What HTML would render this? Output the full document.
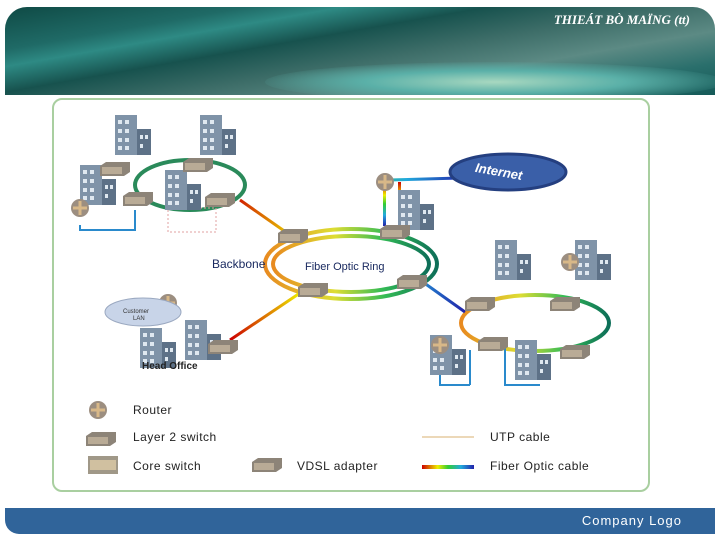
<!DOCTYPE html>
<html><head><meta charset="utf-8"><style>
body{margin:0;width:720px;height:540px;background:#fff;position:relative;overflow:hidden;font-family:"Liberation Sans",sans-serif}
.hdr{position:absolute;left:5px;top:7px;width:710px;height:88px;border-radius:22px 22px 0 0;
background:linear-gradient(170deg,#0f4a45 0%,#1f6a66 20%,#2e8a84 28%,#17524e 40%,#3d6d68 55%,#5c8a84 70%,#2a6f6c 85%,#155a58 100%);overflow:hidden}
.hdr:after{content:"";position:absolute;left:260px;top:55px;width:460px;height:40px;border-radius:50%;background:radial-gradient(ellipse,#a8d8c0 0%,#5ab0a8 40%,rgba(40,120,120,0) 75%)}
.title{position:absolute;right:30px;top:12px;color:#fff;font-family:"Liberation Serif",serif;font-style:italic;font-weight:bold;font-size:13px;z-index:2}
.frame{position:absolute;left:52px;top:98px;width:594px;height:390px;border:2px solid #a9cfa0;border-radius:10px}
.ftr{position:absolute;left:5px;top:508px;width:710px;height:26px;background:#30649a;border-radius:0 0 0 14px}
.ftr span{position:absolute;right:33px;top:5px;color:#fff;font-size:13px;letter-spacing:1px}
.lg{position:absolute;font-size:12px;color:#222;letter-spacing:.5px}
</style></head><body>
<div class="hdr"></div><div class="title">THIEÁT BÒ MAÏNG (tt)</div>
<div class="frame"></div>
<svg width="720" height="540" style="position:absolute;left:0;top:0">
<defs>
<linearGradient id="rb" x1="0" x2="1"><stop offset="0" stop-color="#c00"/><stop offset=".3" stop-color="#ee0"/><stop offset=".5" stop-color="#3c3"/><stop offset=".75" stop-color="#2ad"/><stop offset="1" stop-color="#22a"/></linearGradient>
<linearGradient id="rbv" x1="0" y1="0" x2="0" y2="1"><stop offset="0" stop-color="#c00"/><stop offset=".3" stop-color="#ee0"/><stop offset=".5" stop-color="#3c3"/><stop offset=".75" stop-color="#2ad"/><stop offset="1" stop-color="#22a"/></linearGradient>
<linearGradient id="ring" x1="0" x2="1"><stop offset="0" stop-color="#e88a20"/><stop offset=".4" stop-color="#dd3"/><stop offset=".7" stop-color="#3b5"/><stop offset="1" stop-color="#0d6e58"/></linearGradient>
<g id="bld"><rect x="0" y="0" width="22" height="40" fill="#7f93a8"/><rect x="22" y="14" width="14" height="26" fill="#5d7187"/><g fill="#dfe8f0"><rect x="3" y="5" width="4" height="4"/><rect x="10" y="5" width="4" height="4"/><rect x="3" y="14" width="4" height="4"/><rect x="10" y="14" width="4" height="4"/><rect x="3" y="23" width="4" height="4"/><rect x="10" y="23" width="4" height="4"/><rect x="3" y="31" width="4" height="4"/><rect x="10" y="31" width="4" height="4"/><rect x="25" y="20" width="3" height="4"/><rect x="30" y="20" width="3" height="4"/><rect x="25" y="29" width="3" height="4"/></g></g>
<g id="sw"><path d="M0 4 L6 0 L30 0 L30 10 L24 14 L0 14Z" fill="#8d8478"/><rect x="2" y="5" width="20" height="7" fill="#b9ab96"/></g>
<g id="rt"><circle r="9" fill="#9c8e80"/><path d="M-7 0H7M0 -7V7" stroke="#d8b888" stroke-width="3"/></g>
</defs>
<ellipse cx="351" cy="264" rx="86" ry="35" fill="none" stroke="url(#ring)" stroke-width="4"/>
<ellipse cx="351" cy="264" rx="78" ry="28" fill="none" stroke="url(#ring)" stroke-width="4"/>
<ellipse cx="190" cy="185" rx="55" ry="25" fill="none" stroke="#2a8a5a" stroke-width="4"/>
<ellipse cx="535" cy="323" rx="74" ry="28" fill="none" stroke="url(#ring)" stroke-width="4"/>
<path d="M240 200 L290 235 M300 293 L230 340 M420 280 L465 312 M390 180 L460 178" stroke="url(#rb)" stroke-width="3" fill="none"/>
<rect x="383" y="182" width="3" height="44" fill="url(#rbv)"/><rect x="398" y="182" width="3" height="44" fill="url(#rbv)"/>
<path d="M80 225 V230 H135 V210 M440 350 V385 H470 M470 350 V385 M505 345 V385 H540" stroke="#2a8acc" stroke-width="2" fill="none"/>
<rect x="168" y="208" width="48" height="24" fill="none" stroke="#e0a0a0" stroke-dasharray="2 2"/>
<use href="#bld" x="115" y="115"/><use href="#bld" x="200" y="115"/><use href="#bld" x="80" y="165"/><use href="#bld" x="165" y="170"/>
<use href="#bld" x="398" y="190"/><use href="#bld" x="495" y="240"/><use href="#bld" x="575" y="240"/>
<use href="#bld" x="430" y="335"/><use href="#bld" x="515" y="340"/><use href="#bld" x="185" y="320"/><use href="#bld" x="140" y="328"/>
<use href="#sw" x="100" y="162"/><use href="#sw" x="183" y="158"/><use href="#sw" x="123" y="192"/><use href="#sw" x="205" y="193"/>
<use href="#sw" x="278" y="229"/><use href="#sw" x="380" y="225"/><use href="#sw" x="298" y="283"/><use href="#sw" x="397" y="275"/>
<use href="#sw" x="465" y="297"/><use href="#sw" x="550" y="297"/><use href="#sw" x="478" y="337"/><use href="#sw" x="560" y="345"/><use href="#sw" x="208" y="340"/>
<use href="#rt" x="80" y="208"/><use href="#rt" x="385" y="182"/><use href="#rt" x="168" y="303"/><use href="#rt" x="570" y="262"/><use href="#rt" x="440" y="345"/>
<ellipse cx="508" cy="172" rx="58" ry="18" fill="#3a5fa8" stroke="#243f80" stroke-width="3"/>
<text x="475" y="177" fill="#fff" font-size="13" font-weight="bold" font-style="italic" transform="rotate(10 505 172)">Internet</text>
<ellipse cx="143" cy="312" rx="38" ry="14" fill="#c8d4e8" stroke="#9aa8c0"/>
<text x="123" y="313" font-size="6" fill="#333">Customer</text><text x="133" y="320" font-size="6" fill="#333">LAN</text>
<text x="142" y="369" font-size="10" font-weight="bold" fill="#222">Head Office</text>
<text x="212" y="268" font-size="12" fill="#1a2a60">Backbone</text>
<text x="305" y="270" font-size="11" fill="#1a2a60">Fiber Optic Ring</text>
<use href="#rt" x="98" y="410"/><use href="#sw" x="86" y="432"/><g transform="translate(88,456)"><rect width="30" height="18" fill="#a09888"/><rect x="2" y="4" width="26" height="10" fill="#d0c0a0"/></g>
<use href="#sw" x="252" y="458"/>
<rect x="422" y="436" width="52" height="2" fill="#ecd8b8"/>
<rect x="422" y="465" width="52" height="4" fill="url(#rb)"/>
</svg>
<div class="lg" style="left:133px;top:403px">Router</div>
<div class="lg" style="left:133px;top:430px">Layer 2 switch</div>
<div class="lg" style="left:133px;top:459px">Core switch</div>
<div class="lg" style="left:297px;top:459px">VDSL adapter</div>
<div class="lg" style="left:490px;top:430px">UTP cable</div>
<div class="lg" style="left:490px;top:459px">Fiber Optic cable</div>
<div class="ftr"><span>Company Logo</span></div>
</body></html>
